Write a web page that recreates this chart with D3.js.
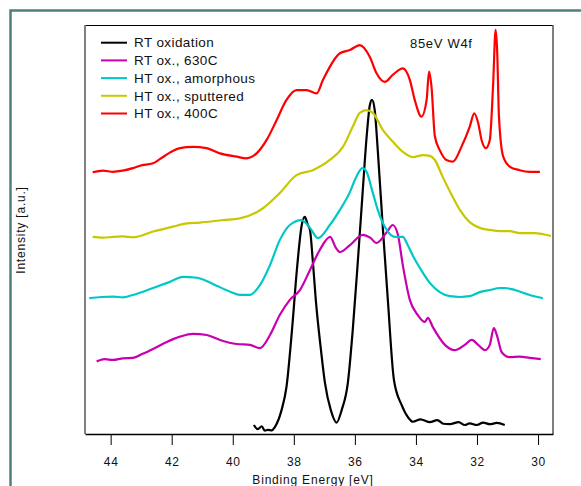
<!DOCTYPE html>
<html lang="en">
  <head>
    <meta charset="utf-8" />
    <title>W4f spectra</title>
    <script src="https://cdn.jsdelivr.net/npm/d3@7"></script>
    <style>
      body { margin: 0; background: #fff; }
      svg text { font-family: "Liberation Sans", Arial, sans-serif; fill: #111; }
    </style>
  </head>
  <body>
    <div id="chart"></div>
    <script type="text/javascript">
      // binding energy [eV], intensity [a.u.] (offset traces as plotted)
      const rtOx = [
        [39.31, 2.2], [39.18, 1.2], [39.05, 1.9], [38.95, 0.8], [38.85, 1.0], [38.72, 0.9], [38.62, 1.7],
        [38.40, 5.9], [38.24, 11.5], [38.06, 25.4], [37.90, 40.1], [37.74, 51.1], [37.64, 53.1],
        [37.54, 51.1], [37.47, 49.9], [37.38, 42.5], [37.28, 32.8], [37.11, 20.5], [36.98, 12.5],
        [36.79, 5.9], [36.60, 2.8], [36.43, 5.9], [36.23, 12.5], [36.07, 25.4], [35.90, 42.5],
        [35.74, 59.7], [35.61, 73.1], [35.51, 80.4], [35.44, 81.7], [35.35, 79.2], [35.25, 69.4],
        [35.08, 49.9], [34.92, 32.8], [34.72, 13.2], [34.47, 7.1], [34.25, 4.0], [34.10, 3.0],
        [33.85, 3.6], [33.54, 2.9], [33.30, 3.4], [33.10, 2.5], [32.89, 2.4], [32.60, 2.9],
        [32.40, 2.2], [32.24, 2.6], [32.00, 2.2], [31.80, 2.8], [31.58, 2.4], [31.35, 2.7], [31.09, 2.2]
      ];
      const rt630 = [
        [44.46, 17.7], [44.20, 18.3], [43.92, 18.1], [43.60, 18.5], [43.27, 18.6], [42.95, 19.6],
        [42.61, 20.8], [42.16, 22.5], [41.73, 23.8], [41.31, 24.5], [40.85, 24.2], [40.42, 23.0],
        [39.87, 22.0], [39.44, 21.8], [39.11, 21.0], [38.78, 24.2], [38.46, 29.1], [38.13, 32.8],
        [37.80, 35.2], [37.47, 40.1], [37.15, 45.0], [36.81, 48.2], [36.62, 45.5], [36.49, 44.5],
        [36.16, 46.2], [35.74, 48.7], [35.50, 48.0], [35.29, 46.7], [34.95, 49.4], [34.76, 51.1],
        [34.59, 48.7], [34.43, 41.3], [34.20, 32.8], [33.94, 29.1], [33.71, 27.4], [33.61, 28.4],
        [33.45, 26.2], [33.05, 21.8], [32.73, 20.5], [32.40, 21.8], [32.17, 23.0], [31.96, 21.8],
        [31.74, 20.5], [31.58, 21.8], [31.45, 25.9], [31.35, 24.2], [31.19, 20.0], [30.93, 18.8],
        [30.60, 18.9], [30.27, 18.6], [29.91, 18.3]
      ];
      const htAmorph = [
        [44.70, 33.2], [44.30, 33.5], [43.92, 33.6], [43.60, 33.4], [43.27, 34.0], [42.61, 35.7],
        [42.06, 37.2], [41.63, 38.4], [41.17, 38.2], [40.65, 36.7], [40.09, 34.8], [39.77, 34.0],
        [39.44, 34.0], [39.11, 36.4], [38.78, 41.3], [38.46, 47.4], [38.13, 51.1], [37.75, 52.3],
        [37.47, 50.4], [37.21, 47.9], [36.82, 51.1], [36.49, 54.8], [36.16, 59.2], [36.00, 62.1],
        [35.75, 65.0], [35.61, 64.0], [35.44, 59.7], [35.25, 54.8], [34.96, 49.9], [34.69, 48.2],
        [34.43, 48.2], [34.27, 46.2], [34.10, 43.6], [33.87, 40.6], [33.54, 36.9], [33.22, 34.7],
        [32.89, 33.7], [32.56, 33.5], [32.24, 33.7], [31.91, 34.7], [31.58, 35.2], [31.25, 35.7],
        [31.09, 35.7], [30.76, 35.2], [30.27, 34.0], [29.84, 33.2]
      ];
      const htSputter = [
        [44.59, 48.2], [44.25, 48.0], [43.92, 48.2], [43.60, 48.3], [43.27, 48.1], [42.61, 49.5],
        [41.96, 50.7], [41.50, 51.5], [41.08, 51.7], [40.42, 52.2], [39.87, 52.6], [39.77, 52.7],
        [39.01, 55.2], [38.46, 58.9], [37.91, 63.3], [37.38, 64.5], [36.82, 67.0], [36.39, 70.2],
        [36.07, 75.1], [35.84, 78.5], [35.62, 79.2], [35.41, 78.5], [35.08, 74.3], [34.76, 71.5],
        [34.43, 69.0], [34.10, 67.7], [33.77, 68.2], [33.54, 68.0], [33.38, 67.0], [33.12, 62.8],
        [32.79, 57.9], [32.56, 54.8], [32.24, 51.8], [31.91, 50.4], [31.58, 49.9], [31.25, 49.6],
        [30.93, 49.6], [30.60, 49.1], [30.11, 49.1], [29.58, 48.4]
      ];
      const ht400 = [
        [44.59, 64.0], [44.25, 64.4], [43.92, 64.1], [43.60, 64.4], [43.27, 65.0], [43.04, 65.6],
        [42.61, 66.2], [42.39, 67.2], [42.06, 68.8], [41.73, 69.9], [41.31, 70.2], [40.86, 69.9],
        [40.42, 68.6], [39.87, 67.8], [39.55, 67.4], [39.22, 68.6], [38.89, 71.9], [38.56, 76.8],
        [38.24, 81.7], [37.91, 84.1], [37.58, 84.1], [37.25, 83.3], [37.05, 86.5], [36.49, 93.1],
        [36.16, 93.9], [35.84, 95.1], [35.51, 92.2], [35.29, 88.2], [35.02, 86.1], [34.76, 87.8],
        [34.43, 89.4], [34.20, 86.6], [34.04, 81.7], [33.82, 77.6], [33.65, 81.7], [33.57, 88.6],
        [33.49, 84.9], [33.38, 72.8], [33.22, 69.4], [33.00, 67.0], [32.79, 66.6], [32.51, 70.2],
        [32.24, 75.1], [32.09, 78.4], [31.96, 76.0], [31.85, 71.9], [31.71, 69.9], [31.58, 71.9],
        [31.47, 85.7], [31.39, 98.8], [31.34, 93.9], [31.28, 77.6], [31.14, 67.8], [30.93, 65.4],
        [30.60, 64.5], [30.27, 64.1], [29.94, 64.1]
      ];

      const seriesNames = ["RT oxidation", "RT ox., 630C", "HT ox., amorphous", "HT ox., sputtered", "HT ox., 400C"];
      const seriesData = [rtOx, rt630, htAmorph, htSputter, ht400];
      const seriesColors = ["#000000", "#c800b0", "#00c8c8", "#c8c800", "#ff0000"];
      const xTicks = [44, 42, 40, 38, 36, 34, 32, 30];

      const width = 581, height = 486;
      const margin = { left: 85, right: 28, top: 25, bottom: 52 };

      const svg = d3.select("#chart").append("svg")
        .attr("width", width)
        .attr("height", height);

      // outer frame
      svg.append("path")
        .attr("d", "M10.5," + height + "V10.5H" + width)
        .attr("fill", "none")
        .attr("stroke", "#4f8080")
        .attr("stroke-width", 2.5);

      const x = d3.scaleLinear()
        .domain([44.84, 29.51])
        .range([margin.left, width - margin.right]);
      const y = d3.scaleLinear()
        .domain([0, 100])
        .range([height - margin.bottom, margin.top]);

      // plot box
      svg.append("line")
        .attr("x1", margin.left).attr("x2", width - margin.right)
        .attr("y1", margin.top + 0.5).attr("y2", margin.top + 0.5)
        .attr("stroke", "#000");
      svg.append("line")
        .attr("x1", margin.left).attr("x2", margin.left)
        .attr("y1", margin.top).attr("y2", height - margin.bottom)
        .attr("stroke", "#808080").attr("stroke-width", 2);
      svg.append("line")
        .attr("x1", width - margin.right).attr("x2", width - margin.right)
        .attr("y1", margin.top).attr("y2", height - margin.bottom)
        .attr("stroke", "#555").attr("stroke-width", 1.5);

      const xAxis = svg.append("g")
        .attr("transform", "translate(0," + (height - margin.bottom) + ")")
        .call(d3.axisBottom(x).tickValues(xTicks).tickSize(11).tickSizeOuter(0).tickPadding(12));
      xAxis.select(".domain").attr("stroke", "#000").attr("stroke-width", 1.3);
      xAxis.selectAll(".tick line").attr("stroke", "#000");
      xAxis.selectAll(".tick text")
        .attr("font-size", "12px")
        .attr("letter-spacing", "0.6px")
        .style("font-family", "'Liberation Sans', Arial, sans-serif")
        .attr("fill", "#111");

      svg.append("text")
        .attr("x", 313)
        .attr("y", 484)
        .attr("text-anchor", "middle")
        .attr("font-size", "12px")
        .attr("letter-spacing", "0.8px")
        .text("Binding Energy [eV]");

      svg.append("text")
        .attr("transform", "translate(25,230) rotate(-90)")
        .attr("text-anchor", "middle")
        .attr("font-size", "12px")
        .attr("letter-spacing", "0.8px")
        .text("Intensity [a.u.]");

      const line = d3.line()
        .curve(d3.curveMonotoneX)
        .x(d => x(d[0]))
        .y(d => y(d[1]));

      svg.append("g").selectAll("path")
        .data(seriesData)
        .join("path")
        .attr("d", line)
        .attr("fill", "none")
        .attr("stroke", (d, i) => seriesColors[i])
        .attr("stroke-width", 2.2)
        .attr("stroke-linejoin", "round");

      // legend
      const legend = svg.append("g");
      seriesNames.forEach((name, i) => {
        const ly = 42.7 + i * 17.7;
        legend.append("line")
          .attr("x1", 101).attr("x2", 127)
          .attr("y1", ly).attr("y2", ly)
          .attr("stroke", seriesColors[i])
          .attr("stroke-width", 2);
        legend.append("text")
          .attr("x", 134)
          .attr("y", ly + 4.7)
          .attr("font-size", "13.5px")
          .attr("letter-spacing", "0.4px")
          .text(name);
      });

      svg.append("text")
        .attr("x", 410)
        .attr("y", 48.3)
        .attr("font-size", "13px")
        .attr("letter-spacing", "0.7px")
        .text("85eV W4f");
    </script>
  </body>
</html>
